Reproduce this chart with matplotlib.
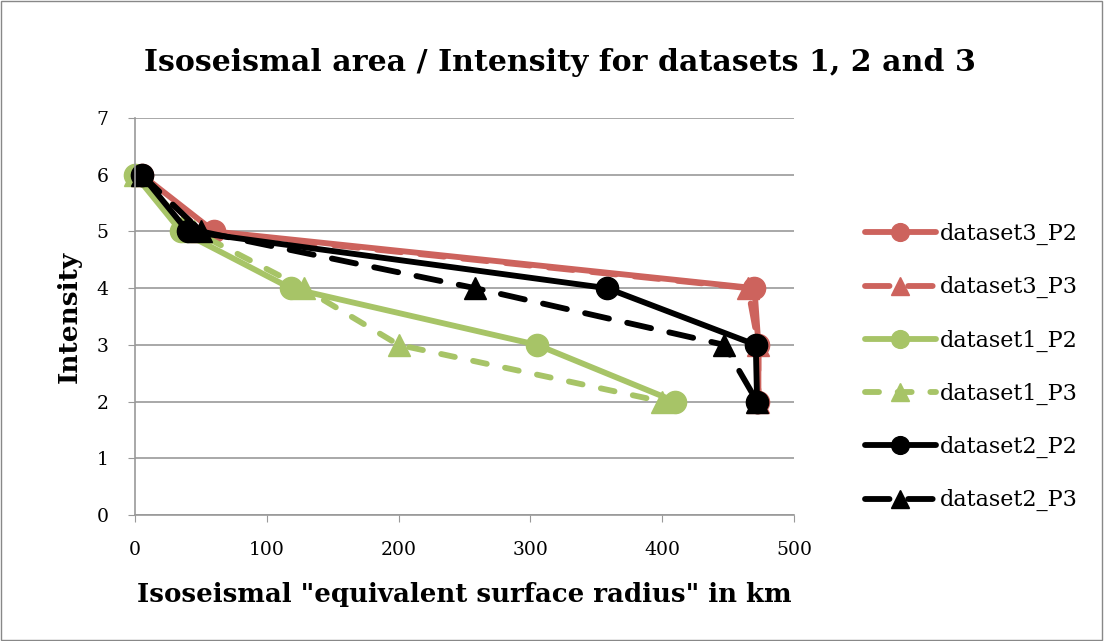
import matplotlib.pyplot as plt
from matplotlib.patches import Rectangle

# data
intensity = [6, 5, 4, 3, 2]
d3_p2 = [5, 60, 470, 473, 473]
d3_p3 = [5, 50, 465, 473, 473]
d1_p2 = [0, 35, 118, 305, 410]
d1_p3 = [0, 45, 128, 200, 400]
d2_p2 = [5, 40, 358, 471, 472]
d2_p3 = [5, 50, 258, 447, 472]

red = '#cd635d'
green = '#a7c467'
black = '#000000'

plt.rcParams['font.family'] = ['DejaVu Serif']

fig = plt.figure(figsize=(11.04, 6.41), dpi=100)
ax = fig.add_axes([0.1223, 0.1966, 0.5969, 0.6193])

long_dash = (0, (4.2, 3.2))
short_dash = (0, (2.4, 3.2))
series = [
    (d3_p2, red, '-', 'o', 'dataset3_P2'),
    (d3_p3, red, long_dash, '^', 'dataset3_P3'),
    (d1_p2, green, '-', 'o', 'dataset1_P2'),
    (d1_p3, green, short_dash, '^', 'dataset1_P3'),
    (d2_p2, black, '-', 'o', 'dataset2_P2'),
    (d2_p3, black, long_dash, '^', 'dataset2_P3'),
]
for xs, c, ls, m, lab in series:
    ax.plot(xs, intensity, color=c, linestyle=ls, linewidth=4.2, marker=m,
            markersize=16, label=lab, dash_capstyle='round', solid_capstyle='round',
            clip_on=False)

ax.set_xlim(0, 500)
ax.set_ylim(0, 7)
ax.set_xticks([0, 100, 200, 300, 400, 500])
ax.set_yticks(range(8))
ax.grid(axis='y', color='#999999', linewidth=1.2)
ax.set_axisbelow(True)
for s in ['top', 'right']:
    ax.spines[s].set_visible(False)
for s in ['left', 'bottom']:
    ax.spines[s].set_color('#999999')
    ax.spines[s].set_linewidth(1.2)
ax.tick_params(colors='#999999', labelcolor='black', labelsize=13.5, length=5)
ax.tick_params(axis='x', pad=14)
ax.tick_params(axis='y', pad=14)

ax.set_xlabel('Isoseismal "equivalent surface radius" in km', fontsize=18.7,
              fontweight='bold', labelpad=16)
ax.set_ylabel('Intensity', fontsize=19, fontweight='bold', labelpad=11)
fig.text(0.507, 0.903, 'Isoseismal area / Intensity for datasets 1, 2 and 3',
         ha='center', va='center', fontsize=21.6, fontweight='bold')

fig.legend(loc='center left', bbox_to_anchor=(0.765, 0.427), frameon=False,
           fontsize=16, handlelength=3.2, labelspacing=1.4, handletextpad=0.2,
           markerscale=0.8)

fig.patches.append(Rectangle((0.001, 0.002), 0.997, 0.996, transform=fig.transFigure,
                             fill=False, edgecolor='#888888', linewidth=1))

fig.savefig('out.png', dpi=100)
